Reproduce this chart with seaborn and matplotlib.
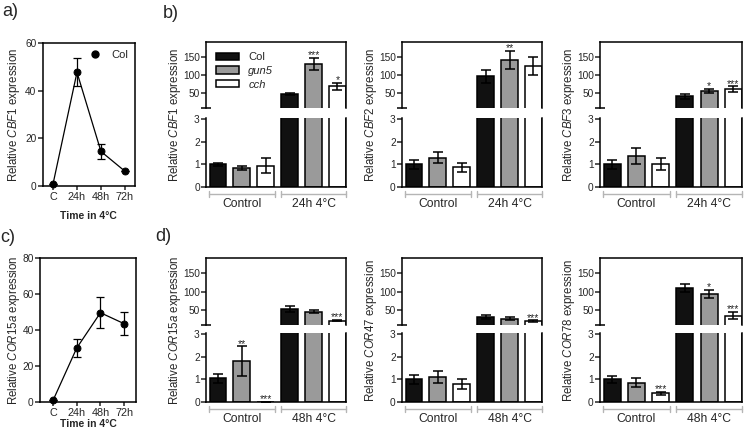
# expression CBF / COR : cinetique (a, c) et barres Col / gun5 / cch (b, d)
import numpy as np
import pandas as pd
import matplotlib
matplotlib.use('Agg')
import matplotlib.pyplot as plt
from matplotlib.patches import Patch
from matplotlib.lines import Line2D
import seaborn as sns

# cinetique au froid
times = ['C', '24h', '48h', '72h']
cbf1_time = [0.8, 47.7, 14.5, 6.2]
cbf1_time_err = [0, 5.8, 3.2, 0]
cor15a_time = [0.9, 30, 49.6, 43.5]
cor15a_time_err = [0, 5, 8.5, 6.3]

genotypes = ['Col', 'gun5', 'cch']
conditions_b = ['Control', '24h 4°C']
conditions_d = ['Control', '48h 4°C']

# ordre : Control Col, gun5, cch puis froid Col, gun5, cch
cbf1 = [1.0, 0.85, 0.95, 47, 131, 69]
cbf1_err = [0.07, 0.08, 0.35, 4, 17, 10]
cbf1_stars = ['', '', '', '', '***', '*']

cbf2 = [1.0, 1.3, 0.88, 96, 142, 124]
cbf2_err = [0.19, 0.24, 0.2, 17, 25, 25]
cbf2_stars = ['', '', '', '', '**', '']

cbf3 = [1.0, 1.38, 1.03, 41, 55, 61]
cbf3_err = [0.2, 0.35, 0.27, 7, 6, 7]
cbf3_stars = ['', '', '', '', '*', '***']

cor15a = [1.04, 1.81, 0.02, 52, 45, 20]
cor15a_err = [0.21, 0.65, 0.0, 7, 4, 2]
cor15a_stars = ['', '**', '***', '', '', '***']

cor47 = [1.01, 1.1, 0.79, 30, 25, 18]
cor47_err = [0.2, 0.25, 0.22, 4.5, 4, 2.5]
cor47_stars = ['', '', '', '', '', '***']

cor78 = [1.0, 0.86, 0.39, 110, 93, 34]
cor78_err = [0.17, 0.19, 0.06, 10, 12, 10]
cor78_stars = ['', '', '***', '', '*', '***']

palette = {'Col': '#111111', 'gun5': '#9a9a9a', 'cch': '#ffffff'}

sns.set_style('ticks')
plt.rcParams['font.family'] = ['Liberation Sans', 'DejaVu Sans']
plt.rcParams['mathtext.fontset'] = 'custom'
plt.rcParams['mathtext.rm'] = 'Liberation Sans'
plt.rcParams['mathtext.it'] = 'Liberation Sans:italic'

W, H = 745, 436
fig = plt.figure(figsize=(W / 100, H / 100), dpi=100)


def px_axes(l, t, r, b):
    """Axes a partir de coordonnees en pixels (origine en haut a gauche)."""
    return fig.add_axes([l / W, 1 - b / H, (r - l) / W, (b - t) / H])


def style_ticks(ax):
    for s in ax.spines.values():
        s.set_linewidth(1.1)
        s.set_color('black')
    ax.tick_params(axis='y', length=3.5, width=1.1, labelsize=7.3, pad=1)


def plot_time(box, vals, errs, ylim, yticks, xlim, gene, label_y, legend=False):
    """Courbe de cinetique avec barres d'erreur"""
    ax = px_axes(*box)
    sns.pointplot(x=times, y=vals, color='black', markers='o', markersize=5,
                  linewidth=0.9, errorbar=None, ax=ax)
    ax.errorbar(np.arange(len(times)), vals, yerr=errs, fmt='none', ecolor='black',
                elinewidth=0.9, capsize=3, capthick=0.9)
    for ln in ax.lines:
        ln.set_clip_on(False)
    ax.set_ylim(*ylim)
    ax.set_yticks(yticks)
    ax.set_xlim(*xlim)
    ax.set_xlabel('')
    ax.set_ylabel('')
    style_ticks(ax)
    ax.tick_params(axis='x', length=3, width=1.1, labelsize=7.8, pad=1)
    if legend:
        h = Line2D([], [], marker='o', color='black', linestyle='None', markersize=5)
        ax.legend([h], ['Col'], loc='upper right', frameon=False, fontsize=8,
                  handletextpad=0.5, borderaxespad=0.2)
    fig.text(14 / W, 1 - (box[1] + box[3]) / 2 / H, f'Relative $\\it{{{gene}}}$ expression',
             rotation=90, ha='center', va='center', fontsize=8.3)
    fig.text((box[0] + box[2]) / 2 / W, 1 - label_y / H, 'Time in 4°C',
             ha='center', va='center', fontsize=7.5, fontweight='bold')
    return ax


def plot_broken(left, tops, vals, errs, stars, conditions, gene, width=140, legend=False):
    """Barres avec axe y coupe : partie haute (8-192) et partie basse (0-3.05)"""
    up_t, up_b, lo_t, lo_b = tops
    ax_up = px_axes(left, up_t, left + width, up_b)
    ax_lo = px_axes(left, lo_t, left + width, lo_b)
    names = [f'{c}\n{g}' for c in conditions for g in genotypes]
    df = pd.DataFrame({'bar': names, 'genotype': genotypes * 2, 'value': vals})
    x = np.arange(len(names))

    for ax in (ax_up, ax_lo):
        sns.barplot(data=df, x='bar', y='value', hue='genotype', order=names,
                    hue_order=genotypes, palette=palette, dodge=False, width=0.7,
                    edgecolor='black', linewidth=1.1, errorbar=None, legend=False, ax=ax)
        ax.errorbar(x, vals, yerr=errs, fmt='none', ecolor='black',
                    elinewidth=1.1, capsize=3.5, capthick=1.1)
        ax.set_xlim(-0.5, 5.36)
        ax.set_xticks([])
        ax.set_xlabel('')
        ax.set_ylabel('')
        style_ticks(ax)

    ax_up.set_ylim(8, 192)
    ax_up.set_yticks([50, 100, 150])
    ax_up.spines['bottom'].set_visible(False)
    ax_up.plot(0, 0, marker='_', markersize=7, mew=1.1, color='black',
               transform=ax_up.transAxes, clip_on=False)

    ax_lo.set_ylim(0, 3.05)
    ax_lo.set_yticks([0, 1, 2, 3])
    ax_lo.spines['top'].set_visible(False)

    # etoiles de significativite
    for i, s in enumerate(stars):
        if not s:
            continue
        top = vals[i] + errs[i]
        ax = ax_up if top > 3 else ax_lo
        ax.annotate(s, (x[i], top), xytext=(0, 1.8), textcoords='offset points',
                    ha='center', va='center', fontsize=7.5)

    # accolades des groupes sous l'axe
    h = lo_b - lo_t
    trans = ax_lo.get_xaxis_transform()
    for k, cond in enumerate(conditions):
        x0, x1 = 3 * k - 0.38, 3 * k + 2 + 0.38
        y = -7 / h
        ax_lo.plot([x0, x1], [y, y], color='#b5b5b5', lw=1, transform=trans, clip_on=False)
        for xe in (x0, x1):
            ax_lo.plot([xe, xe], [y - 3 / h, y + 3 / h], color='#b5b5b5', lw=1,
                       transform=trans, clip_on=False)
        ax_lo.text((x0 + x1) / 2, -17 / h, cond, transform=trans, ha='center',
                   va='center', fontsize=8.7)

    if legend:
        handles = [Patch(facecolor=palette[g], edgecolor='black', linewidth=1.1) for g in genotypes]
        leg = ax_up.legend(handles, genotypes, loc='upper left', frameon=False, fontsize=8,
                           handlelength=2.1, handleheight=0.6, labelspacing=0.35,
                           borderaxespad=0.5, handletextpad=0.8)
        for t in leg.get_texts()[1:]:
            t.set_style('italic')

    fig.text((left - 31) / W, 1 - (up_t + lo_b) / 2 / H, f'Relative $\\it{{{gene}}}$ expression',
             rotation=90, ha='center', va='center', fontsize=8.3)
    return ax_up, ax_lo


plot_time((42.7, 43, 135, 186), cbf1_time, cbf1_time_err, (0, 60), [0, 20, 40, 60],
          (-0.43, 3.42), 'CBF1', 216, legend=True)
plot_time((40, 258, 136, 402), cor15a_time, cor15a_time_err, (0, 80), [0, 20, 40, 60, 80],
          (-0.55, 3.5), 'COR15a', 424)

tops_b = (42, 108, 118, 187)
tops_d = (258, 325, 333, 402)
plot_broken(206, tops_b, cbf1, cbf1_err, cbf1_stars, conditions_b, 'CBF1', legend=True)
plot_broken(402, tops_b, cbf2, cbf2_err, cbf2_stars, conditions_b, 'CBF2')
plot_broken(600, tops_b, cbf3, cbf3_err, cbf3_stars, conditions_b, 'CBF3', width=142)
plot_broken(206, tops_d, cor15a, cor15a_err, cor15a_stars, conditions_d, 'COR15a')
plot_broken(402, tops_d, cor47, cor47_err, cor47_stars, conditions_d, 'COR47')
plot_broken(600, tops_d, cor78, cor78_err, cor78_stars, conditions_d, 'COR78', width=142)

# lettres des panneaux
for lab, xp, yp in [('a)', 2, 12), ('b)', 163, 13), ('c)', 0, 238), ('d)', 155, 236)]:
    fig.text(xp / W, 1 - yp / H, lab, fontsize=13, ha='left', va='center')

fig.savefig('out.png', dpi=100)
